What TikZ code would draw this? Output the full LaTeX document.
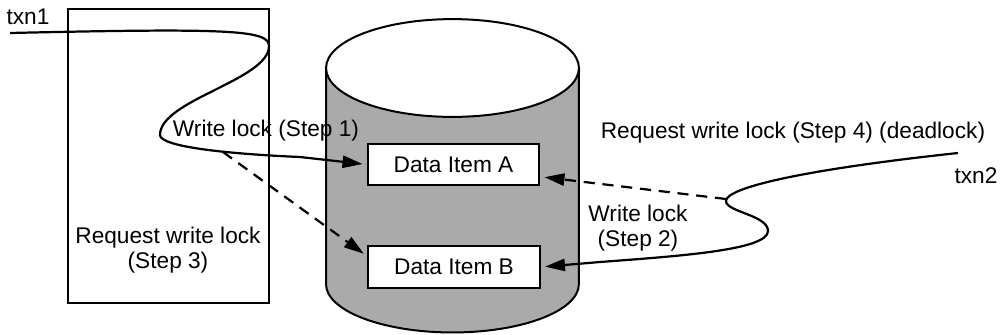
\documentclass[tikz,border=0pt]{standalone}
\usepackage{fontspec}
\setmainfont{Liberation Sans}
\usetikzlibrary{arrows.meta}
\definecolor{dbgray}{RGB}{170,170,170}

\begin{document}
\begin{tikzpicture}[
  x = 0.45pt, y = -0.45pt,
  every node/.style = {font = \fontsize{10.2}{11}\selectfont, align = center},
  item/.style = {draw, fill = white, line width = 0.9pt, minimum width = 77pt, minimum height = 18.5pt},
  hostbox/.style = {draw, line width = 0.9pt, minimum width = 90.5pt, minimum height = 132.3pt},
  flow/.style = {line width = 1pt, -{Triangle[length = 9pt, width = 5.5pt]}, shorten > = 2pt},
  dashflow/.style = {flow, dash pattern = on 5pt off 3.5pt},
  ]
  \useasboundingbox (0,0) rectangle (1000,334);
  \node[hostbox] (host) at (168.5,156) {};
  \node (txnone) at (28,17) {txn1};
  \node (stepthree) at (168,250) {Request write lock\\(Step 3)};
  % database
  \filldraw[fill = dbgray, line width = 0.9pt] (326,68) -- (326,284)
    arc[start angle = 180, end angle = 360, x radius = 56.9pt, y radius = 21.8pt] -- (579,68);
  \filldraw[fill = white, line width = 0.9pt] (452.5,68) ellipse [x radius = 56.9pt, y radius = 22pt];
  \node[item] (itema) at (453.5,164.5) {Data Item A};
  \node[item] (itemb) at (454,267) {Data Item B};
  % labels
  \node (stepone) at (266,131) {Write lock (Step 1)};
  \node (stepfour) at (793,133) {Request write lock (Step 4) (deadlock)};
  \node (txntwo) at (976,176) {txn2};
  \node (steptwo) at (638,228) {Write lock\\(Step 2)};
  % txn1
  \coordinate (startone) at (10,33);
  \coordinate (branchone) at (223,152);
  \draw[flow] (startone) .. controls (230,28) and (269,30) .. (269,46)
    .. controls (269,80) and (160,100) .. (160,135)
    .. controls (160,147) and (230,154) .. (300,157) -- (itema.west);
  \draw[dashflow] (branchone) -- (itemb.173);
  % txn2
  \coordinate (starttwo) at (958,153);
  \coordinate (branchtwo) at (726,199);
  \draw[flow] (starttwo) .. controls (800,170) and (726,188) .. (726,201)
    .. controls (726,212) and (768,215) .. (768,231)
    .. controls (768,250) and (680,256) .. (600,262) -- (itemb.east);
  \draw[dashflow] (branchtwo) -- (itema.-8);
\end{tikzpicture}
\end{document}
